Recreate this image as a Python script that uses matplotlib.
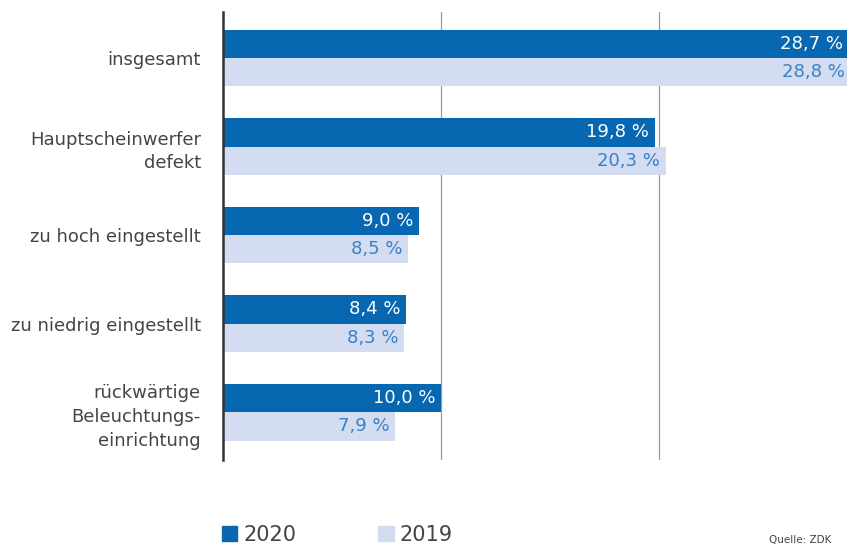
import matplotlib.pyplot as plt
import numpy as np
from matplotlib.patches import Patch

# Data
categories = ["insgesamt", "Hauptscheinwerfer\ndefekt", "zu hoch eingestellt",
              "zu niedrig eingestellt", "rückwärtige\nBeleuchtungs-\neinrichtung"]
values_2020 = [28.7, 19.8, 9.0, 8.4, 10.0]
values_2019 = [28.8, 20.3, 8.5, 8.3, 7.9]
years = ["2020", "2019"]

dark_blue = "#0767b1"
light_blue = "#d3dcf1"
label_blue = "#3b80c6"
text_grey = "#444444"

plt.rcParams["font.family"] = ["DejaVu Sans"]

fig = plt.figure(figsize=(8.47, 5.49), dpi=100)
ax = fig.add_axes([223 / 847, 89 / 549, 624 / 847, 448 / 549])

y = np.arange(len(categories))
h = 0.32
bars20 = ax.barh(y - h / 2, values_2020, height=h, color=dark_blue, zorder=2)
bars19 = ax.barh(y + h / 2, values_2019, height=h, color=light_blue, zorder=2)

# value labels inside bar ends
for bars, vals, col in [(bars20, values_2020, "white"), (bars19, values_2019, label_blue)]:
    for bar, v in zip(bars, vals):
        ax.annotate(f"{v:.1f} %".replace(".", ","),
                    (bar.get_width(), bar.get_y() + bar.get_height() / 2),
                    xytext=(-4, 0), textcoords="offset points", ha="right", va="center",
                    color=col, fontsize=13, zorder=3, annotation_clip=False)

ax.set_xlim(0, 28.62)
ax.set_ylim(4.54, -0.52)
ax.set_yticks(y)
ax.set_yticklabels(categories, fontsize=13, color=text_grey, linespacing=1.4)
ax.tick_params(axis="y", length=0, pad=16)
ax.set_xticks([10, 20])
ax.tick_params(axis="x", length=0, labelbottom=False)
ax.grid(axis="x", color="#9a9a9a", linewidth=0.9, zorder=1)
for side in ["top", "right", "bottom"]:
    ax.spines[side].set_visible(False)
ax.spines["left"].set_color("#333333")
ax.spines["left"].set_linewidth(1.8)
ax.spines["left"].set_zorder(4)

handles = [Patch(color=dark_blue), Patch(color=light_blue)]
fig.legend(handles, years, loc="lower left", bbox_to_anchor=(203 / 847, -0.026), ncol=2,
           frameon=False, fontsize=15, handlelength=0.75, handleheight=0.75,
           handletextpad=0.3, columnspacing=3.9, labelcolor=text_grey)

fig.text(769 / 847, 4 / 549, "Quelle: ZDK", fontsize=7.5, color=text_grey,
         ha="left", va="bottom")

fig.savefig("out.png", dpi=100)
